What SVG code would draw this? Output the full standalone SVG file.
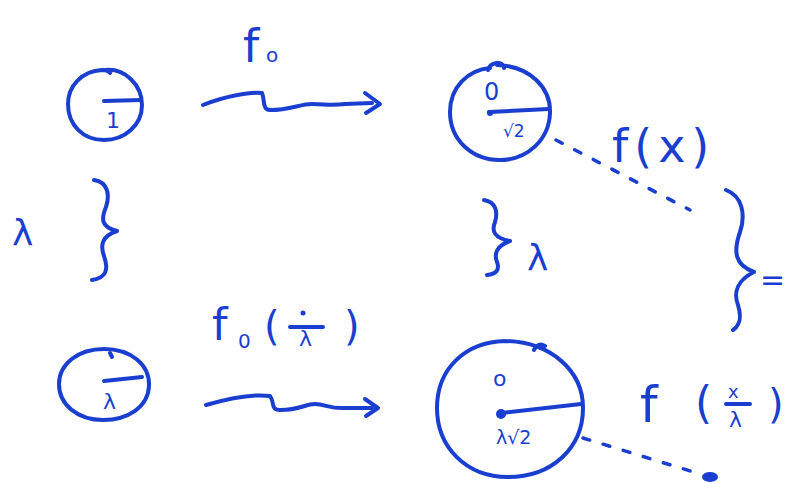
<svg xmlns="http://www.w3.org/2000/svg" width="790" height="483" viewBox="0 0 790 483">
<style>
.s{fill:none;stroke:#1a3fd0;stroke-width:4;stroke-linecap:round;stroke-linejoin:round}
.d{fill:none;stroke:#1a3fd0;stroke-width:3.5;stroke-linecap:round;stroke-dasharray:7 14}
.t{fill:#1a3fd0;font-family:"DejaVu Sans",sans-serif}
</style>
<rect width="790" height="483" fill="#fff"/>
<g id="n1">
<path class="s" d="M105,70 C125,68 142,85 142,105 C142,125 125,140 104,140 C83,140 68,125 68,104 C68,86 82,71 102,70 C108,70 110,73 110,73"/>
<path class="s" d="M104,101 L141,100"/>
<text class="t" x="106" y="128" font-size="22">1</text>
</g>
<g id="n2">
<path class="s" d="M497,65 C530,66 551,88 550,113 C549,140 527,160 500,160 C472,160 450,140 450,112 C450,87 468,70 490,68 M488,70 C490,62 503,60 504,68"/>
<text class="t" x="484" y="100" font-size="24">0</text>
<path class="s" d="M489,112 L549,109"/>
<circle cx="490" cy="113" r="3" fill="#1a3fd0"/>
<text class="t" x="503" y="137" font-size="17">√2</text>
</g>
<g id="n3">
<path class="s" d="M104,349 C130,349 150,364 149,386 C148,407 128,420 103,420 C78,420 59,405 59,384 C59,364 78,349 104,349"/>
<path class="s" d="M104,381 L142,377"/>
<path class="s" d="M110,353 L112,357"/>
<text class="t" x="103" y="409" font-size="22">λ</text>
</g>
<g id="n4">
<path class="s" d="M505,341 C550,342 583,370 583,408 C583,448 552,477 508,477 C466,477 437,447 437,408 C437,368 466,342 505,341 M534,350 C536,345 540,343 545,346"/>
<text class="t" x="493" y="386" font-size="22">o</text>
<path class="s" d="M501,413 L581,404"/>
<circle cx="501" cy="414" r="5" fill="#1a3fd0"/>
<text class="t" x="496" y="444" font-size="19">λ√2</text>
</g>
<g id="labels">
<text class="t" x="243" y="62" font-size="46">f</text>
<text class="t" x="266" y="62" font-size="20">o</text>
<text class="t" x="612" y="162" font-size="46" letter-spacing="6">f(x)</text>
<text class="t" x="212" y="340" font-size="44">f</text>
<text class="t" x="238" y="348" font-size="20">0</text>
<text class="t" x="264" y="340" font-size="40">(</text>
<circle cx="303" cy="313" r="2.5" fill="#1a3fd0"/>
<path class="s" d="M290,327 L323,327"/>
<text class="t" x="299" y="346" font-size="22">λ</text>
<text class="t" x="344" y="340" font-size="40">)</text>
<text class="t" x="640" y="422" font-size="50">f</text>
<text class="t" x="695" y="418" font-size="44">(</text>
<text class="t" x="728" y="398" font-size="18">x</text>
<path class="s" d="M726,404 L750,404"/>
<text class="t" x="729" y="427" font-size="22">λ</text>
<text class="t" x="768" y="418" font-size="40">)</text>
<text class="t" x="12" y="245" font-size="36">λ</text>
<text class="t" x="527" y="270" font-size="36">λ</text>
<text class="t" x="760" y="290" font-size="30">=</text>
</g>
<g id="connectors">
<path class="s" d="M203,105 C225,96 250,92 262,93 C265,100 262,110 270,110 C290,110 300,104 312,104 C325,104 330,106 345,104 L372,103"/>
<path class="s" d="M365,93 L380,104 L366,113"/>
<path class="s" d="M206,405 C230,398 255,394 270,396 C275,402 270,410 280,410 C300,410 305,404 315,404 C325,404 330,409 345,408 L372,408"/>
<path class="s" d="M365,399 L378,408 L366,416"/>
<path class="s" d="M94,180 C108,182 110,195 106,207 C101,219 101,227 117,231 C102,236 100,245 104,256 C109,270 106,278 92,280"/>
<path class="s" d="M484,200 C496,202 498,212 495,222 C491,232 495,238 510,241 C496,246 494,254 497,262 C500,270 496,274 487,275"/>
<path class="s" d="M726,190 C742,196 746,214 740,232 C733,252 735,265 754,272 C738,280 733,292 738,305 C742,318 740,325 733,330"/>
<path class="d" d="M556,140 L690,210"/>
<path class="d" d="M583,438 L700,474"/>
<ellipse cx="710" cy="477" rx="8" ry="5" fill="#1a3fd0"/>
</g>
</svg>
